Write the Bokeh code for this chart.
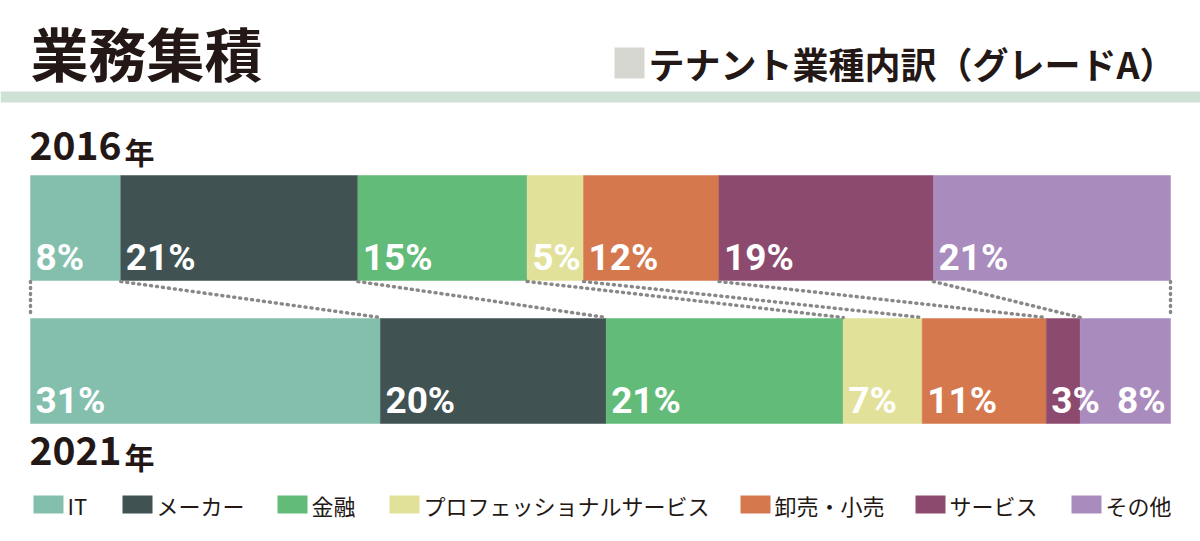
import numpy as np
from bokeh.plotting import figure
from bokeh.models import Range1d
from bokeh.core.properties import value
from bokeh.embed import file_html
from bokeh.resources import INLINE

# ---------------- data ----------------
categories = ["IT", "メーカー", "金融", "プロフェッショナルサービス", "卸売・小売", "サービス", "その他"]
share_2016 = [8, 21, 15, 5, 12, 19, 21]
share_2021 = [31, 20, 21, 7, 11, 3, 8]
year_labels = ["2016", "2021"]
year_suffix = "年"
title = "業務集積"
subtitle = "テナント業種内訳（グレードA）"

# ---------------- style ----------------
colors = ["#84bfae", "#405252", "#62bb78", "#e2e19a", "#d6784e", "#8c4a6e", "#aa8bbd"]
label_align_2016 = ["left"] * 7
label_align_2021 = ["left"] * 6 + ["right"]
legend_px = [33, 122, 277, 389, 740, 915, 1071]
INK = "#231815"
JP = value("Noto Sans CJK JP")
NUM = value("Roboto")

W, H = 1200, 541
BAR_L, BAR_R = 30, 1170
SPAN = BAR_R - BAR_L


def X(px):
    """pixel position -> data (percent) coordinate"""
    return (px - BAR_L) * 100.0 / SPAN


def dx(px):
    return px * 100.0 / SPAN


p = figure(width=W, height=H, x_range=Range1d(X(0), X(W)), y_range=Range1d(H, 0),
           output_backend="svg", toolbar_location=None, min_border=0,
           x_axis_location=None, y_axis_location=None)
p.grid.visible = False
p.outline_line_color = None
p.background_fill_color = "white"
p.border_fill_color = "white"

# header
p.text(x=[X(30)], y=[51], text=[title], text_font=JP, text_font_style="bold",
       text_font_size="58px", text_baseline="middle", text_color=INK)
p.quad(left=[X(614)], right=[X(644)], top=[47], bottom=[78], fill_color="#d7d7d2", line_color=None)
p.text(x=[X(648)], y=[62], text=[subtitle], text_font=JP, text_font_style="bold",
       text_font_size="36px", text_baseline="middle", text_color=INK)
p.quad(left=[X(0)], right=[X(W)], top=[91], bottom=[102], fill_color="#cfe0d5", line_color=None)

# bars
rows = [
    (share_2016, 175, 280, label_align_2016),
    (share_2021, 318, 423, label_align_2021),
]
bounds = []
for shares, top, bottom, aligns in rows:
    s = np.array(shares, dtype=float)
    right = np.cumsum(s) / s.sum() * 100.0
    left = np.concatenate([[0.0], right[:-1]])
    bounds.append(np.concatenate([[0.0], right]))
    p.quad(left=left, right=right, top=top, bottom=bottom,
           fill_color=colors, line_color=colors, line_width=0.5)
    lx = [l + dx(5) if a == "left" else r - dx(5) for l, r, a in zip(left, right, aligns)]
    for x, v, a in zip(lx, shares, aligns):
        p.text(x=[x], y=[bottom - 23], text=[f"{v}%"], text_font=NUM, text_font_style="bold",
               text_font_size="37px", text_align=a, text_baseline="middle",
               text_color="white")

# dotted connectors between matching boundaries
p.segment(x0=bounds[0], y0=[281] * len(bounds[0]), x1=bounds[1], y1=[317] * len(bounds[1]),
          line_color="#888888", line_width=3.5, line_dash="1 5", line_cap="round")

# year labels
for yl, mid in zip(year_labels, [145, 450]):
    p.text(x=[X(29)], y=[mid], text=[yl], text_font=JP, text_font_style="bold",
           text_font_size="39px", text_baseline="middle", text_color=INK)
    p.text(x=[X(124)], y=[mid + 5], text=[year_suffix], text_font=JP, text_font_style="bold",
           text_font_size="30px", text_baseline="middle", text_color=INK)

# legend
lpx = np.array(legend_px, dtype=float)
p.quad(left=X(lpx), right=X(lpx + 30), top=[495] * 7, bottom=[513] * 7,
       fill_color=colors, line_color=None)
p.text(x=X(lpx + 34), y=[504] * 7, text=categories, text_font=JP,
       text_font_size="22px", text_baseline="middle", text_color=INK)

open("out.html", "w").write(file_html(p, INLINE))
